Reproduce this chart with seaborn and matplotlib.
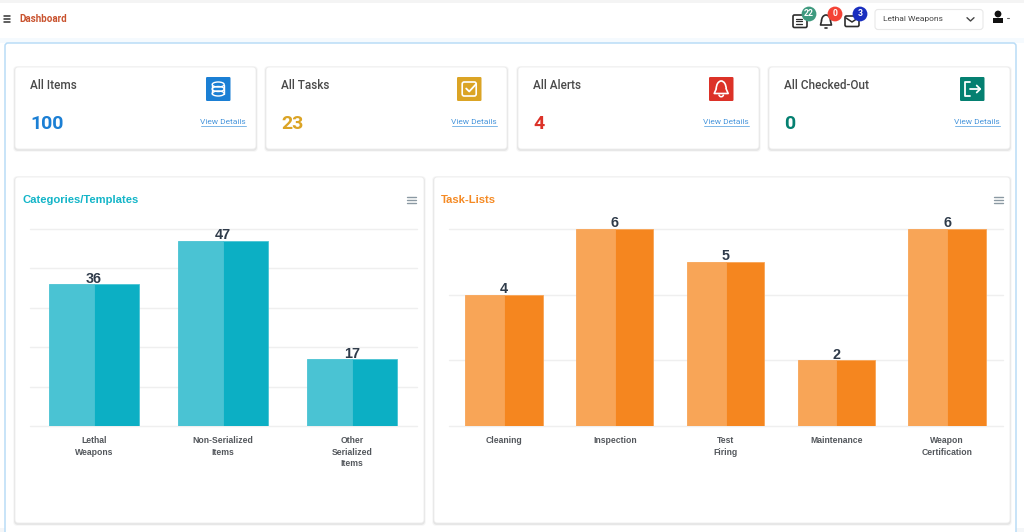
import matplotlib
matplotlib.use("Agg")
import matplotlib.pyplot as plt
from matplotlib.patches import FancyBboxPatch, Rectangle, Circle, Ellipse, Arc, Polygon
import pandas as pd
import seaborn as sns

# ---------- data ----------
category_labels = ["Lethal\nWeapons", "Non-Serialized\nItems", "Other\nSerialized\nItems"]
category_values = [36, 47, 17]
category_ticks = [0, 10, 20, 30, 40, 50]

task_labels = ["Cleaning", "Inspection", "Test\nFiring", "Maintenance", "Weapon\nCertification"]
task_values = [4, 6, 5, 2, 6]
task_ticks = [0, 2, 4, 6]

card_titles = ["All Items", "All Tasks", "All Alerts", "All Checked-Out"]
card_values = ["100", "23", "4", "0"]
card_colors = ["#1b7fd4", "#dba425", "#dc3228", "#058071"]
card_lefts = [15, 266, 518, 769]
badge_values = ["22", "0", "3"]
badge_colors = ["#3f9a7f", "#f44336", "#1a2fbf"]

W, H = 1024, 532
sns.set_theme(style="white")
plt.rcParams["font.family"] = ["Roboto", "DejaVu Sans"]

fig = plt.figure(figsize=(W / 100, H / 100), dpi=100, facecolor="white")
ui = fig.add_axes([0, 0, 1, 1], zorder=0)
ui.set_xlim(0, W)
ui.set_ylim(H, 0)
ui.axis("off")


def rrect(x0, y0, x1, y1, r=3, fc="white", ec="none", lw=0.8, z=1, alpha=None):
    p = FancyBboxPatch((x0 + r, y0 + r), x1 - x0 - 2 * r, y1 - y0 - 2 * r,
                       boxstyle=f"round,pad={r},rounding_size={r}",
                       fc=fc, ec=ec, lw=lw, zorder=z, alpha=alpha)
    ui.add_patch(p)
    return p


def card(x0, y0, x1, y1):
    for grow, a in ((1.8, 0.07), (0.9, 0.14)):
        rrect(x0 - grow, y0 - grow + 1, x1 + grow, y1 + grow + 1, r=4, fc="#808080", alpha=a, z=2)
    rrect(x0, y0, x1, y1, r=3, fc="white", ec="#ececec", lw=0.6, z=3)


def line(xs, ys, color="white", lw=1.2, z=6):
    ui.plot(xs, ys, color=color, lw=lw, zorder=z, solid_capstyle="round")


# page frame
ui.add_patch(Rectangle((0, 0), W, 2.5, fc="#f4f4f4", ec="none"))
ui.add_patch(Rectangle((0, 38), W, 5, fc="#f5fafe", ec="none"))
ui.add_patch(Rectangle((0, 528), W, 4, fc="#f4f6f8", ec="none"))
rrect(5, 43, 1016, 545, r=3, fc="white", ec="#b9dcf7", lw=1.1, z=1)

# header
for y in (16.3, 19, 21.7):
    line([3.5, 9.5], [y, y], color="#333333", lw=1.1)
ui.text(19, 18.5, "Dashboard", fontsize=7.0, fontweight="bold", color="#c9532f",
        va="center", ha="left", zorder=6)

# header icons
doc_x, bell_x, mail_x = 800, 826, 852
rrect(doc_x - 7, 15, doc_x + 7, 27.5, r=1.5, fc="white", ec="#2d2d2d", lw=1.2, z=5)
for y in (18.5, 21, 23.5):
    line([doc_x - 4.5, doc_x + 1.5], [y, y], color="#2d2d2d", lw=0.9)
ui.add_patch(Arc((bell_x, 21), 9, 12, theta1=180, theta2=360, ec="#2d2d2d", lw=1.2, zorder=5))
line([bell_x - 4.5, bell_x - 5.5, bell_x + 5.5, bell_x + 4.5], [21, 25, 25, 21], color="#2d2d2d", lw=1.2)
line([bell_x - 1, bell_x + 1], [27.5, 27.5], color="#2d2d2d", lw=1.2)
rrect(mail_x - 7, 16, mail_x + 7, 26.5, r=1.5, fc="white", ec="#2d2d2d", lw=1.2, z=5)
line([mail_x - 6, mail_x, mail_x + 6], [18, 22, 18], color="#2d2d2d", lw=1.1)
for cx, txt, col in zip((809, 835, 860), badge_values, badge_colors):
    ui.add_patch(Circle((cx, 14), 7.4, fc=col, ec="none", zorder=7))
    ui.text(cx, 14, txt, fontsize=6.2, fontweight="bold", color="white",
            ha="center", va="center", zorder=8)

# selector + user
rrect(875, 9.5, 983, 29.5, r=3, fc="white", ec="#e8e8e8", lw=0.8, z=4)
ui.text(883, 19.5, "Lethal Weapons", fontsize=6.0, color="#444444", ha="left", va="center", zorder=6)
line([967, 970.5, 974], [17.7, 21, 17.7], color="#444444", lw=1.0)
ui.add_patch(Circle((998, 14), 3.4, fc="#111111", ec="none", zorder=6))
ui.add_patch(Rectangle((993, 18), 10, 4.5, fc="#111111", ec="none", zorder=6))
line([1006.5, 1008.5], [17.5, 17.5], color="#666666", lw=0.8)

# KPI cards
for x0, title, val, col in zip(card_lefts, card_titles, card_values, card_colors):
    card(x0, 67, x0 + 241, 149)
    ui.text(x0 + 15, 85.5, title, fontsize=8.5, color="#4a4a4a", fontweight="medium",
            ha="left", va="center", zorder=6)
    ui.text(x0 + 15, 124, val, fontsize=14, color=col, fontweight="bold",
            ha="left", va="center", zorder=6)
    ui.text(x0 + 231, 121.5, "View Details", fontsize=6.0, color="#4a97dc",
            ha="right", va="center", zorder=6)
    line([x0 + 186, x0 + 231], [126.3, 126.3], color="#7db6e6", lw=0.7)
    rrect(x0 + 191, 77, x0 + 215.5, 101, r=1.2, fc=col, z=5)

# icon glyphs
cx = card_lefts[0] + 203.2
for y in (84.5, 89, 93.5):
    ui.add_patch(Ellipse((cx, y), 12, 5, fc="none", ec="white", lw=1.0, zorder=6))
line([cx - 6, cx - 6], [84.5, 93.5], lw=1.0)
line([cx + 6, cx + 6], [84.5, 93.5], lw=1.0)

cx = card_lefts[1] + 203.2
rrect(cx - 7, 82, cx + 7, 96, r=2, fc="none", ec="white", lw=1.2, z=6)
line([cx - 3, cx, cx + 7], [88.5, 91.5, 84], lw=1.3, z=7)

cx = card_lefts[2] + 203.2
ui.add_patch(Arc((cx, 89), 10, 16, theta1=180, theta2=360, ec="white", lw=1.2, zorder=6))
line([cx - 5, cx - 7, cx + 7, cx + 5], [89, 93.5, 93.5, 89], lw=1.2)
ui.add_patch(Arc((cx, 94.5), 4.5, 4.5, theta1=0, theta2=180, ec="white", lw=1.1, zorder=6))

cx = card_lefts[3] + 203.2
line([cx - 2, cx - 7, cx - 7, cx - 2], [82, 82, 96, 96], lw=1.3)
line([cx - 2, cx + 8], [89, 89], lw=1.3)
line([cx + 4.5, cx + 8, cx + 4.5], [85.5, 89, 92.5], lw=1.3)

# chart cards
card(15, 177, 424, 523)
card(434, 177, 1010, 523)
ui.text(22.5, 200, "Categories/Templates", fontsize=8.1, fontweight="bold", color="#13b5c8",
        family="Liberation Sans", ha="left", va="center", zorder=6)
ui.text(441, 200, "Task-Lists", fontsize=8.1, fontweight="bold", color="#f58a24",
        family="Liberation Sans", ha="left", va="center", zorder=6)
for mx in (411.5, 998):
    for y in (197, 200, 203):
        line([mx - 4.5, mx + 4.5], [y, y], color="#8b99a3", lw=1.0)


def bar_chart(left, right, labels, values, ticks, light, dark):
    ax = fig.add_axes([left / W, 1 - 426.2 / H, (right - left) / W, 197.5 / H], zorder=5)
    ax.patch.set_alpha(0)
    df = pd.DataFrame({
        "label": labels * 2,
        "value": values * 2,
        "tone": ["light"] * len(labels) + ["dark"] * len(labels),
    })
    sns.barplot(data=df, x="label", y="value", hue="tone", order=labels,
                hue_order=["light", "dark"], palette={"light": light, "dark": dark},
                width=0.7, gap=0, dodge=True, legend=False, ax=ax, saturation=1,
                edgecolor=light, linewidth=0.6, zorder=3)
    ax.set_xlim(-0.5, len(labels) - 0.5)
    ax.set_ylim(ticks[0], ticks[-1])
    ax.set_yticks(ticks)
    ax.set_yticklabels([])
    ax.set_xlabel("")
    ax.set_ylabel("")
    ax.grid(axis="y", color="#efefef", lw=1.0, clip_on=False)
    ax.grid(axis="x", visible=False)
    ax.set_axisbelow(True)
    for s in ax.spines.values():
        s.set_visible(False)
    ax.tick_params(axis="both", length=0)
    ax.tick_params(axis="x", pad=7)
    for t in ax.get_xticklabels():
        t.set_fontsize(6.2)
        t.set_fontweight("bold")
        t.set_family("Liberation Sans")
        t.set_color("#53575c")
        t.set_linespacing(1.38)
    for i, v in enumerate(values):
        ax.annotate(str(v), (i, v), xytext=(0, -1.2), textcoords="offset points",
                    ha="center", va="bottom", fontsize=10.4, fontweight="bold",
                    family="Liberation Sans", color="#2f3b4a", annotation_clip=False)
    return ax


bar_chart(29.7, 416.5, category_labels, category_values, category_ticks, "#4ac3d3", "#0cafc4")
bar_chart(448.5, 1002.5, task_labels, task_values, task_ticks, "#f8a557", "#f5861f")

fig.savefig("out.png", dpi=100)
